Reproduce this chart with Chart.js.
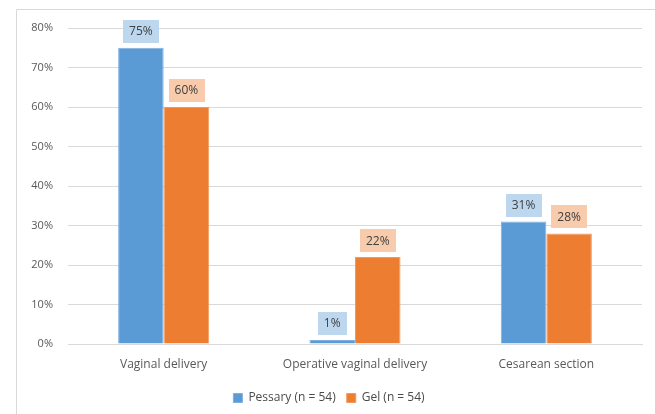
<!DOCTYPE html>
<html>
<head>
<meta charset="utf-8">
<script src="https://cdn.jsdelivr.net/npm/chart.js@4/dist/chart.umd.min.js"></script>
<style>
  html, body { margin: 0; padding: 0; background: #ffffff; }
  #wrap { width: 655px; height: 414px; position: relative; }
</style>
</head>
<body>
<div id="wrap"><canvas id="c" width="655" height="414"></canvas></div>
<script>
// Delivery outcome by induction method (percent of each group)
const categories = ['Vaginal delivery', 'Operative vaginal delivery', 'Cesarean section'];
const pessaryValues = [75, 1, 31];
const gelValues = [60, 22, 28];
const seriesNames = ['Pessary (n = 54)', 'Gel (n = 54)'];
const yTicks = [0, 10, 20, 30, 40, 50, 60, 70, 80];

const FONT = '"Open Sans", "Liberation Sans", sans-serif';

// Frame around the chart area (left and top edges visible)
const framePlugin = {
  id: 'frame',
  beforeDraw(chart) {
    const ctx = chart.ctx;
    ctx.save();
    ctx.strokeStyle = '#d9d9d9';
    ctx.lineWidth = 1;
    ctx.beginPath();
    ctx.moveTo(16.5, chart.height);
    ctx.lineTo(16.5, 9.5);
    ctx.lineTo(chart.width, 9.5);
    ctx.stroke();
    ctx.restore();
  }
};

// Value labels in tinted boxes above each bar
const boxLabelPlugin = {
  id: 'boxLabels',
  afterDatasetsDraw(chart) {
    const ctx = chart.ctx;
    const fills = ['#bdd7ee', '#f8cbad'];
    ctx.save();
    ctx.font = '12px ' + FONT;
    ctx.textAlign = 'center';
    ctx.textBaseline = 'middle';
    chart.data.datasets.forEach((ds, di) => {
      const meta = chart.getDatasetMeta(di);
      meta.data.forEach((bar, i) => {
        const text = ds.data[i] + '%';
        const w = ctx.measureText(text).width + 12;
        const h = 23;
        const x = bar.x;
        const bottom = bar.y - 5;
        ctx.fillStyle = fills[di];
        ctx.fillRect(Math.round(x - w / 2), Math.round(bottom - h), Math.round(w), h);
        ctx.fillStyle = '#404040';
        ctx.fillText(text, x, bottom - h / 2 + 0.5);
      });
    });
    ctx.restore();
  }
};

new Chart(document.getElementById('c'), {
  type: 'bar',
  data: {
    labels: categories,
    datasets: [
      { label: seriesNames[0], data: pessaryValues, backgroundColor: '#5b9bd5',
        borderColor: '#7fb0de', borderWidth: 1 },
      { label: seriesNames[1], data: gelValues, backgroundColor: '#ed7d31',
        borderColor: '#f29a5e', borderWidth: 1 }
    ]
  },
  options: {
    responsive: false,
    animation: false,
    devicePixelRatio: 1,
    layout: { padding: { left: 16, right: 13, top: 28, bottom: 0 } },
    datasets: { bar: { categoryPercentage: 0.476, barPercentage: 1.0 } },
    scales: {
      x: {
        grid: { display: false, drawTicks: false },
        border: { display: true, color: '#d9d9d9' },
        ticks: { color: '#595959', font: { family: FONT, size: 12 }, padding: 13 },
        afterFit(s) { s.height = 37; }
      },
      y: {
        min: 0, max: 80,
        afterBuildTicks(s) { s.ticks = yTicks.map(v => ({ value: v })); },
        grid: { color: '#d9d9d9', drawTicks: false },
        border: { display: false },
        ticks: { color: '#595959', font: { family: FONT, size: 11 }, padding: 15,
                 callback: v => v + '%' },
        afterFit(s) { s.width = 52; }
      }
    },
    plugins: {
      legend: {
        position: 'bottom',
        labels: { boxWidth: 9, boxHeight: 9, color: '#4a4a4a',
                  font: { family: FONT, size: 12 }, padding: 11 }
      },
      tooltip: { enabled: false }
    }
  },
  plugins: [framePlugin, boxLabelPlugin]
});
</script>
</body>
</html>
